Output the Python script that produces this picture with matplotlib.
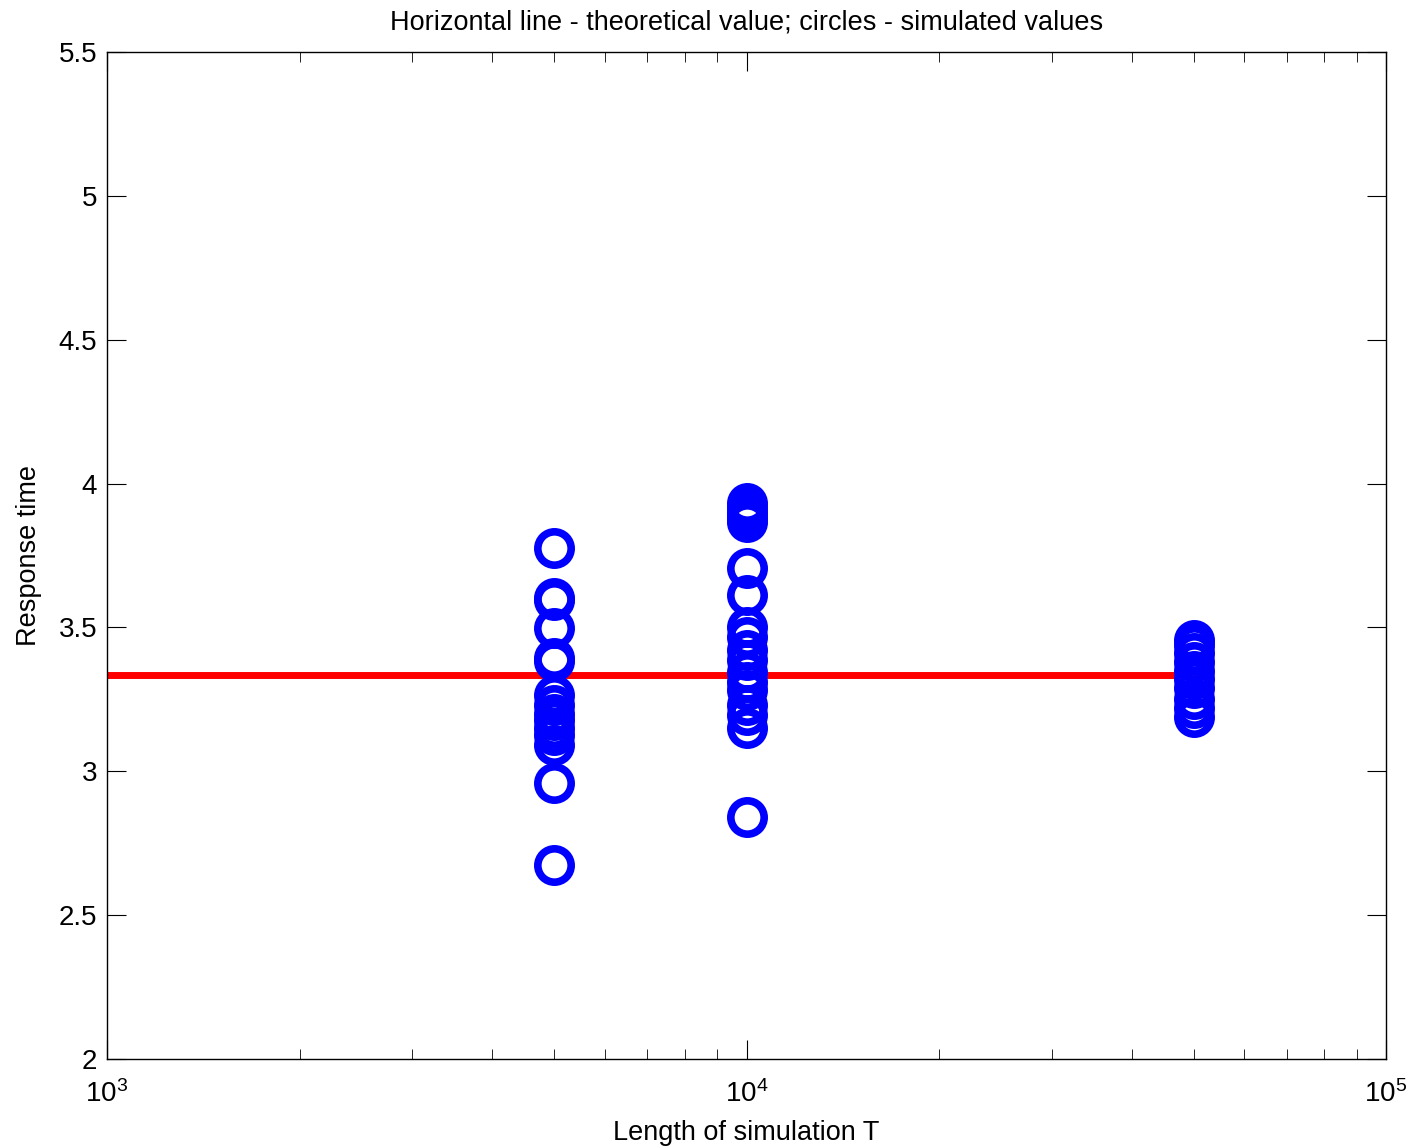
import numpy as np
import matplotlib
matplotlib.use('Agg')
import matplotlib.pyplot as plt

plt.rcParams['font.family'] = ['Liberation Sans', 'DejaVu Sans']
plt.rcParams['mathtext.fontset'] = 'custom'
plt.rcParams['mathtext.rm'] = 'Liberation Sans'

# simulated response times, per simulation length
T_short = 5000
sim_short = [3.776, 3.602, 3.595, 3.498, 3.394, 3.385, 3.265, 3.23, 3.2, 3.178,
             3.15, 3.126, 3.09, 2.96, 2.674]
T_mid = 10000
sim_mid = [3.933, 3.915, 3.898, 3.881, 3.866, 3.707, 3.613, 3.502, 3.467, 3.42,
           3.387, 3.345, 3.31, 3.283, 3.23, 3.196, 3.15, 2.841]
T_long = 50000
sim_long = [3.456, 3.44, 3.41, 3.38, 3.35, 3.32, 3.29, 3.25, 3.22, 3.189]
theory = 3.3333
line_T = [1000, 50000]

fig = plt.figure(figsize=(14.21, 11.48), dpi=100)
ax = fig.add_axes([0.0753, 0.0775, 0.9001, 0.8772])

ax.plot(line_T, [theory, theory], color='red', lw=5, zorder=1)
for T, vals in [(T_short, sim_short), (T_mid, sim_mid), (T_long, sim_long)]:
    ax.plot([T] * len(vals), vals, 'o', ms=24, mfc='none', mec='blue', mew=5.5, zorder=2)

ax.set_xscale('log')
ax.set_xlim(1e3, 1e5)
ax.set_ylim(2, 5.5)
ax.set_yticks(np.arange(2, 5.51, 0.5))
ax.set_yticklabels(['2', '2.5', '3', '3.5', '4', '4.5', '5', '5.5'])
ax.tick_params(which='both', direction='in', top=True, right=True, labelsize=20)
ax.tick_params(which='major', length=14)
ax.tick_params(which='minor', length=7)
ax.tick_params(axis='x', pad=15)
ax.tick_params(axis='y', pad=7)
for s in ax.spines.values():
    s.set_linewidth(1)

ax.set_title('Horizontal line - theoretical value; circles - simulated values', fontsize=19.5, pad=16)
ax.set_xlabel('Length of simulation T', fontsize=19.5, labelpad=9)
ax.set_ylabel('Response time', fontsize=19.5, labelpad=12)

fig.savefig('out.png', dpi=100)
